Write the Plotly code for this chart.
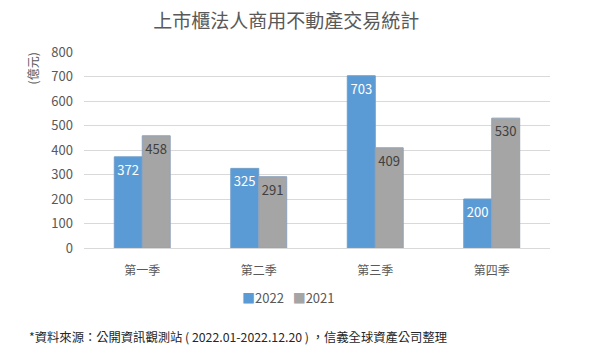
import plotly.graph_objects as go

categories = ["第一季", "第二季", "第三季", "第四季"]
values_2022 = [372, 325, 703, 200]
values_2021 = [458, 291, 409, 530]
y_ticks = [0, 100, 200, 300, 400, 500, 600, 700, 800]
series_names = ["2022", "2021"]
series_colors = ["#5B9BD5", "#A5A5A5"]

FONT = "Noto Sans CJK TC"

fig = go.Figure()
fig.add_trace(go.Bar(
    name=series_names[0], x=categories, y=values_2022,
    marker=dict(color=series_colors[0], line=dict(color="#6f9cc8", width=1)),
    text=[str(v) for v in values_2022], textposition="inside",
    insidetextanchor="end", textangle=0,
    textfont=dict(color="white", size=14, family=FONT),
))
fig.add_trace(go.Bar(
    name=series_names[1], x=categories, y=values_2021,
    marker=dict(color=series_colors[1], line=dict(color="#8fa3bb", width=1)),
    text=[str(v) for v in values_2021], textposition="inside",
    insidetextanchor="end", textangle=0,
    textfont=dict(color="#404040", size=14, family=FONT),
))

fig.update_layout(
    width=600, height=356,
    margin=dict(l=84, r=50, t=52, b=108, autoexpand=False),
    paper_bgcolor="white", plot_bgcolor="white",
    font=dict(family=FONT, color="#595959", size=12),
    barmode="group", bargap=0.52, bargroupgap=0,
    uniformtext=dict(minsize=8, mode="show"),
    title=dict(text="上市櫃法人商用不動產交易統計", x=0.477, xanchor="center",
               xref="container", yref="container",
               y=1 - 21 / 356, yanchor="middle",
               font=dict(size=19, color="#595959", family=FONT)),
    showlegend=False,
    xaxis=dict(showgrid=False, showline=True, linecolor="#d9d9d9", linewidth=1,
               ticks="", automargin=False, ticklabelstandoff=12,
               tickfont=dict(size=12, color="#595959")),
    yaxis=dict(range=[0, 800], tickvals=y_ticks, showgrid=True, gridcolor="#d9d9d9",
               gridwidth=1, zeroline=False, showline=False, ticks="",
               automargin=False, ticklabelstandoff=10,
               tickfont=dict(size=13, color="#595959")),
)

# legend drawn as a single text line: coloured squares + series names
legend_text = "&nbsp;&nbsp;&nbsp;".join(
    f"<span style='color:{c}'>■</span>{n}" for n, c in zip(series_names, series_colors)
)
fig.add_annotation(text=legend_text, xref="paper", yref="paper", x=0.438, y=-0.25,
                   xanchor="center", yanchor="middle", showarrow=False,
                   font=dict(size=13, color="#595959", family=FONT))

fig.add_annotation(text="(億元)", xref="paper", yref="paper", x=-0.11, y=0.915,
                   showarrow=False, textangle=-90, xanchor="center", yanchor="middle",
                   font=dict(size=12, color="#595959", family=FONT))
fig.add_annotation(text="*資料來源：公開資訊觀測站 ( 2022.01-2022.12.20 ) ，信義全球資產公司整理",
                   xref="paper", yref="paper", x=-0.122, y=-0.454,
                   xanchor="left", yanchor="middle", showarrow=False,
                   font=dict(size=12.3, color="#262626", family=FONT))

fig.write_html("out.html", config={"displayModeBar": False},
               post_script="document.body.style.margin='0';")
